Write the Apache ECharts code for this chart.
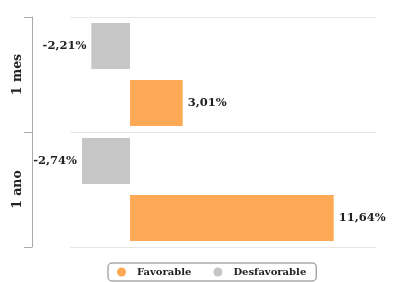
<!DOCTYPE html>
<html>
<head>
<meta charset="utf-8">
<script src="https://cdn.jsdelivr.net/npm/echarts@6/dist/echarts.min.js"></script>
<style>
    html, body { margin: 0; padding: 0; background: #fff; }
    #container_chart { width: 396px; height: 282px; }
</style>
</head>
<body>
<div id="container_chart"></div>
<script>
    // periods, bottom to top
    var periods = ['1 ano', '1 mes'];
    var favorable = [11.64, 3.01];
    var desfavorable = [-2.74, -2.21];

    var font = 'DejaVu Serif';

    function pct(v) {
        return v.toFixed(2).replace('.', ',') + '%';
    }

    var labelStyle = {
        fontFamily: font,
        fontWeight: 'bold',
        fontSize: 11.5,
        color: '#222'
    };

    var chart = echarts.init(document.getElementById('container_chart'));

    var option = {
        animation: false,
        grid: {
            left: 70,
            right: 20,
            top: 17,
            bottom: 35,
            containLabel: false
        },
        legend: {
            bottom: 1,
            left: 108,
            data: ['Favorable', 'Desfavorable'],
            icon: 'circle',
            itemWidth: 21,
            itemHeight: 9,
            itemGap: 22,
            padding: [4, 10, 4, 9],
            borderColor: '#aaa',
            borderWidth: 1.5,
            borderRadius: 4,
            textStyle: {
                fontFamily: font,
                fontWeight: 'bold',
                fontSize: 10,
                color: '#222'
            }
        },
        xAxis: {
            type: 'value',
            min: -3.4286,
            max: 14.057,
            show: false,
            splitLine: { show: false }
        },
        yAxis: {
            type: 'category',
            data: periods,
            offset: 38,
            axisLine: { show: true, onZero: false, lineStyle: { color: '#aaa' } },
            axisTick: { show: true, length: 8, lineStyle: { color: '#aaa' } },
            splitLine: { show: true, lineStyle: { color: '#e6e6e6' } },
            axisLabel: {
                rotate: 90,
                margin: 8,
                fontFamily: font,
                fontWeight: 'bold',
                fontSize: 12.5,
                color: '#222'
            }
        },
        series: [
            {
                name: 'Desfavorable',
                type: 'bar',
                data: desfavorable,
                barWidth: 46,
                barGap: '24%',
                itemStyle: { color: '#c6c6c6' },
                label: Object.assign({
                    show: true,
                    position: 'left',
                    distance: 5,
                    formatter: function (p) { return pct(p.value); }
                }, labelStyle)
            },
            {
                name: 'Favorable',
                type: 'bar',
                data: favorable,
                barWidth: 46,
                barGap: '24%',
                itemStyle: { color: '#fea955' },
                label: Object.assign({
                    show: true,
                    position: 'right',
                    distance: 5,
                    formatter: function (p) { return pct(p.value); }
                }, labelStyle)
            }
        ]
    };

    chart.setOption(option);
</script>
</body>
</html>
